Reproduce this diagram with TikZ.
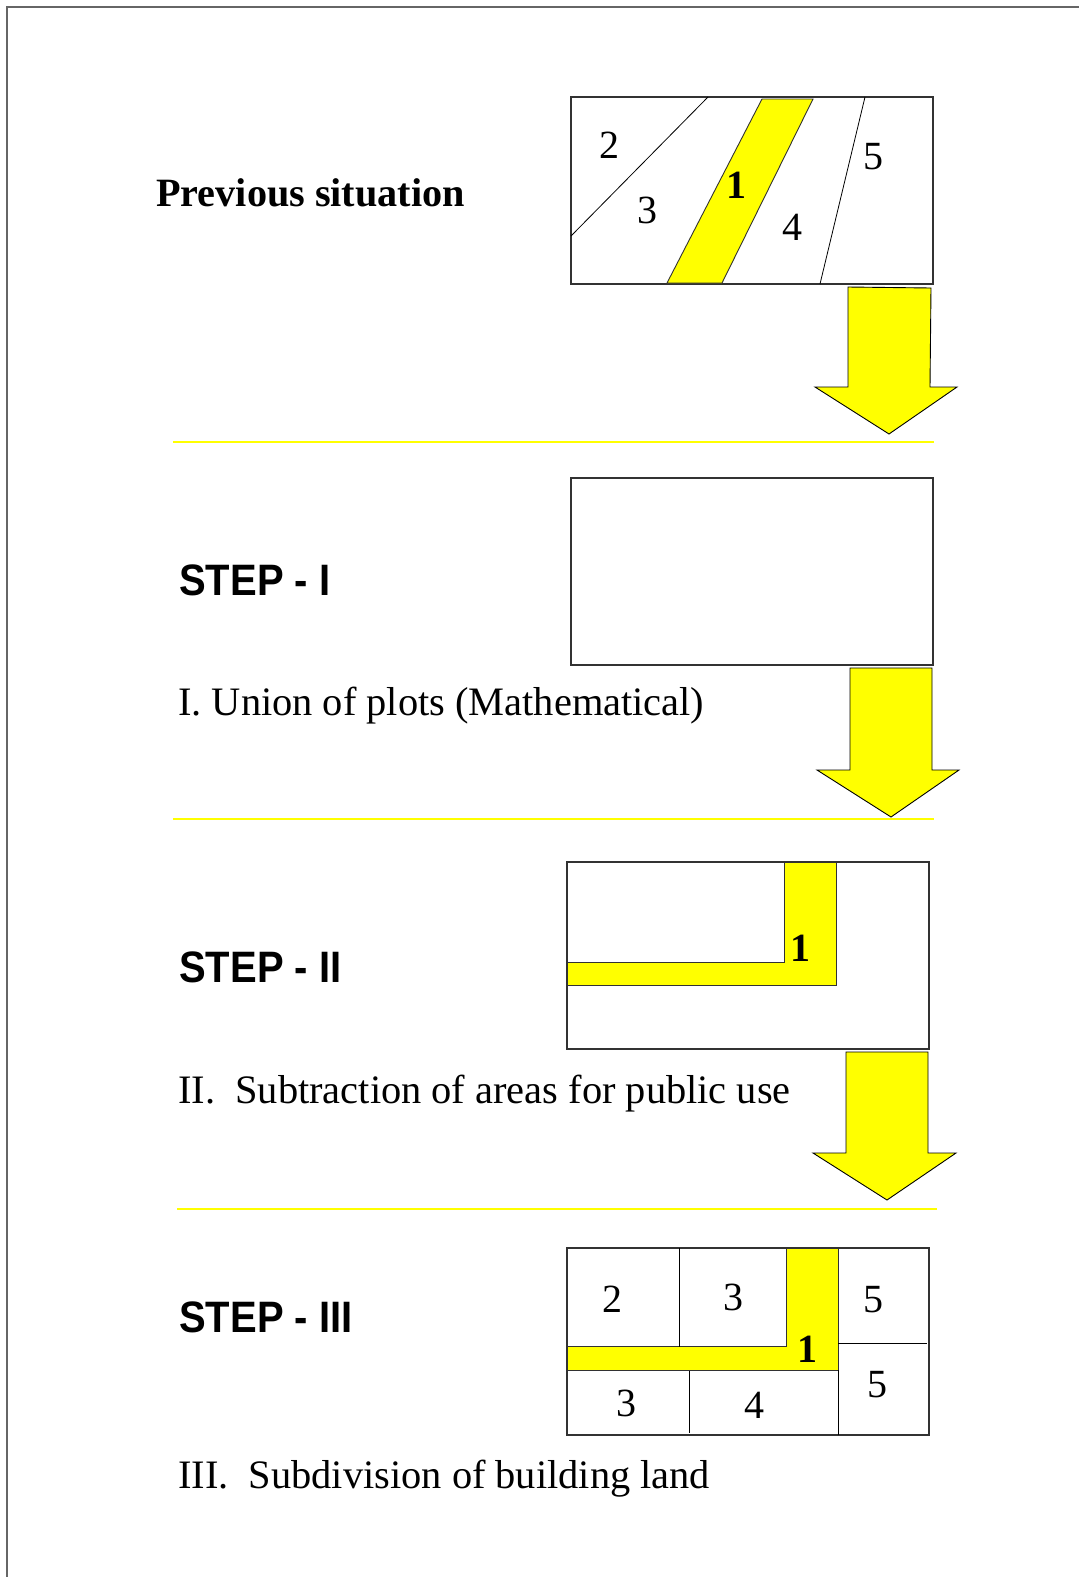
\documentclass[tikz,border=0pt]{standalone}
\usepackage{fontspec}
\setmainfont{Liberation Serif}
\setsansfont{Liberation Sans}
\definecolor{plotyellow}{RGB}{255,255,0}
\definecolor{edgegray}{RGB}{50,50,50}
\newcommand{\tallstep}[1]{\scalebox{1}[1.1]{#1}}
\begin{document}
\begin{tikzpicture}[x=1pt,y=-1pt,
  boxline/.style={draw=edgegray,line width=1.1pt},
  thinline/.style={draw=black,line width=0.8pt},
  yellowpart/.style={fill=plotyellow,draw=edgegray,line width=0.9pt},
  bigarrow/.style={fill=plotyellow,draw=black,line width=0.9pt,line join=miter},
  sepline/.style={draw=plotyellow,line width=2.2pt},
  frameline/.style={draw=gray!80!black,line width=1.5pt},
  numlabel/.style={inner sep=0pt,anchor=center,font=\fontsize{40}{48}\selectfont},
  boldnum/.style={inner sep=0pt,anchor=center,font=\fontsize{40}{48}\selectfont\bfseries},
  titletext/.style={inner sep=0pt,anchor=base west,font=\fontsize{40.2}{48}\selectfont\bfseries},
  steptext/.style={inner sep=0pt,anchor=base west,font=\fontsize{40}{48}\selectfont\sffamily\bfseries},
  desctext/.style={inner sep=0pt,anchor=base west,font=\fontsize{40.4}{48}\selectfont}
]
\useasboundingbox (0,0) rectangle (1079,1577);
\fill[white] (0,0) rectangle (1079,1577);
% frame
\draw[frameline] (7,1577) -- (7,7) -- (1079,7);

% ---------- Previous situation ----------
\node[titletext] (prevtitle) at (156,206) {Previous situation};
\draw[boxline,fill=white] (571,97) rectangle (933,284);
\draw[thinline] (708,97) -- (571,236);
\filldraw[yellowpart] (762,99) -- (813,99) -- (722,283) -- (667,283) -- cycle;
\draw[thinline] (865,97) -- (820,284);
\node[numlabel] (p2) at (609,145) {2};
\node[numlabel] (p3) at (647,210) {3};
\node[boldnum]  (p1) at (736,185) {1};
\node[numlabel] (p4) at (792,227) {4};
\node[numlabel] (p5) at (873,157) {5};
\filldraw[bigarrow] (848,287) -- (931,288) -- (930,387) -- (957,387) -- (889,434) -- (815,387) -- (848,387) -- cycle;
\draw[sepline] (173,442) -- (934,442);

% ---------- STEP I ----------
\node[steptext] (stepone) at (179,595) {\tallstep{STEP - I}};
\draw[boxline] (571,478) rectangle (933,665);
\node[desctext] (descone) at (178,715) {I. Union of plots (Mathematical)};
\filldraw[bigarrow] (850,668) -- (932,668) -- (932,770) -- (959,770) -- (891,817) -- (817,770) -- (850,770) -- cycle;
\draw[sepline] (173,819) -- (934,819);

% ---------- STEP II ----------
\node[steptext] (steptwo) at (179,982) {\tallstep{STEP - II}};
\draw[boxline] (567,862) rectangle (929,1049);
\filldraw[yellowpart] (784,862) -- (836,862) -- (836,985) -- (567,985) -- (567,962) -- (784,962) -- cycle;
\node[boldnum] (s1) at (800,948) {1};
\node[desctext] (desctwo) at (178,1103) {II.\ \ Subtraction of areas for public use};
\filldraw[bigarrow] (846,1052) -- (928,1052) -- (928,1153) -- (956,1153) -- (887,1200) -- (813,1153) -- (846,1153) -- cycle;
\draw[sepline] (177,1209) -- (937,1209);

% ---------- STEP III ----------
\node[steptext] (stepthree) at (179,1332) {\tallstep{STEP - III}};
\draw[boxline] (567,1248) rectangle (929,1435);
\filldraw[yellowpart] (786,1248) -- (838,1248) -- (838,1370) -- (567,1370) -- (567,1346) -- (786,1346) -- cycle;
\draw[thinline] (679,1248) -- (679,1347);
\draw[thinline] (838,1370) -- (838,1435);
\draw[thinline] (838,1343) -- (927,1343);
\draw[thinline] (689,1371) -- (689,1433);
\node[numlabel] (t2) at (612,1299) {2};
\node[numlabel] (t3a) at (733,1297) {3};
\node[numlabel] (t5a) at (873,1300) {5};
\node[boldnum]  (t1) at (807,1349) {1};
\node[numlabel] (t3b) at (626,1403) {3};
\node[numlabel] (t4) at (754,1405) {4};
\node[numlabel] (t5b) at (877,1385) {5};
\node[desctext] (descthree) at (178,1488) {III.\ \ Subdivision of building land};
\end{tikzpicture}
\end{document}
